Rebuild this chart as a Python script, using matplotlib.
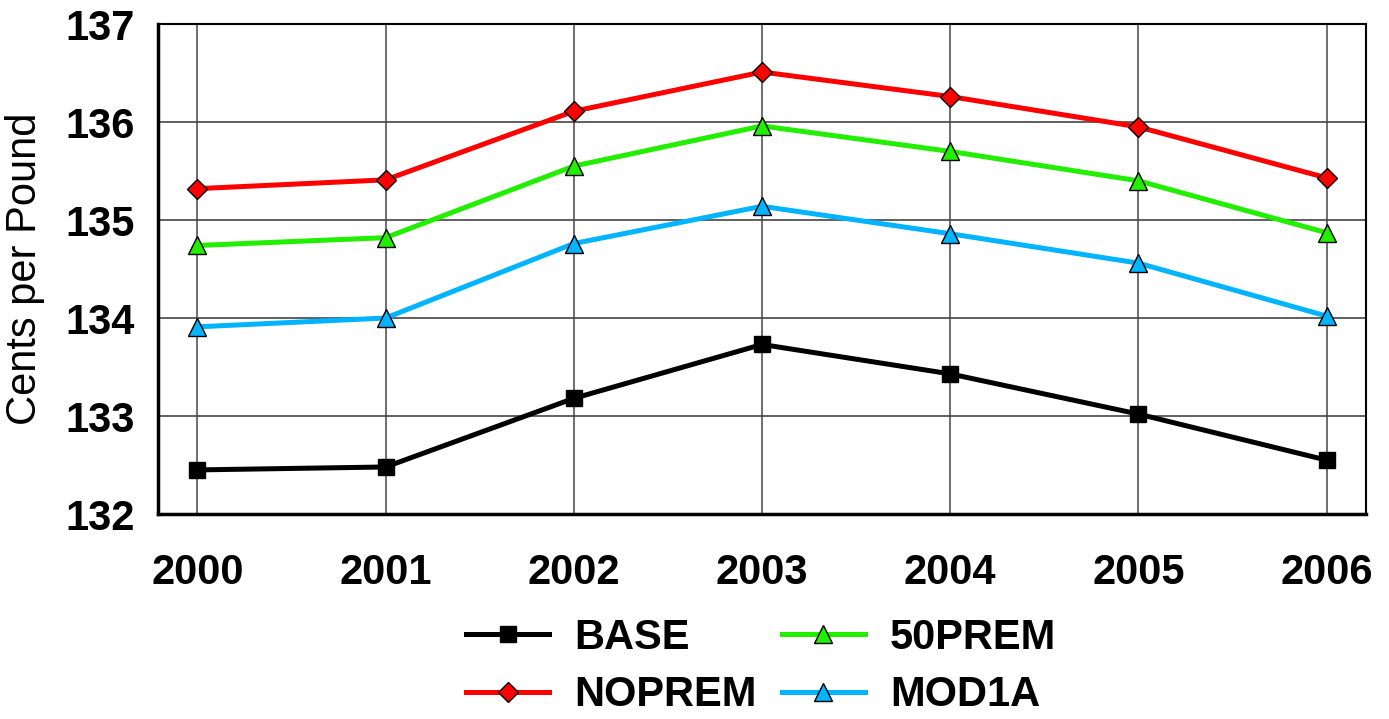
import matplotlib
matplotlib.use('Agg')
import matplotlib.pyplot as plt

years = ['2000', '2001', '2002', '2003', '2004', '2005', '2006']
base = [132.45, 132.48, 133.18, 133.73, 133.43, 133.02, 132.55]
noprem = [135.32, 135.41, 136.11, 136.51, 136.26, 135.95, 135.43]
prem50 = [134.74, 134.82, 135.55, 135.96, 135.70, 135.40, 134.87]
mod1a = [133.91, 134.00, 134.76, 135.14, 134.86, 134.56, 134.02]

plt.rcParams['font.family'] = ['Liberation Sans', 'DejaVu Sans']

fig = plt.figure(figsize=(13.89, 7.19), dpi=100)
ax = fig.add_axes([0.1137, 0.2851, 0.8698, 0.6815])

x = list(range(len(years)))
lw = 3.6
ax.plot(x, base, color='black', lw=lw, marker='s', ms=11, mfc='black', mec='black', label='BASE', zorder=5)
ax.plot(x, noprem, color='#ff0000', lw=lw, marker='D', ms=10, mfc='#ff0000', mec='black', mew=1, label='NOPREM', zorder=5)
ax.plot(x, prem50, color='#22ee00', lw=lw, marker='^', ms=13, mfc='#22ee00', mec='black', mew=1, label='50PREM', zorder=5)
ax.plot(x, mod1a, color='#00b4ff', lw=lw, marker='^', ms=13, mfc='#00b4ff', mec='black', mew=1, label='MOD1A', zorder=5)

ax.set_xlim(-0.21, 6.21)
ax.set_ylim(132, 137)
ax.set_yticks([132, 133, 134, 135, 136, 137])
ax.set_xticks(x)
ax.set_xticklabels(years)
ax.tick_params(axis='both', length=0, labelsize=30)
ax.tick_params(axis='x', pad=28)
ax.tick_params(axis='y', pad=17)
for lab in ax.get_xticklabels() + ax.get_yticklabels():
    lab.set_fontweight('bold')

ax.yaxis.grid(True, color='#444444', lw=1.2)
ax.xaxis.grid(True, color='#555555', lw=1.2)
ax.set_axisbelow(True)
for s in ax.spines.values():
    s.set_linewidth(1.5)
ax.spines['left'].set_linewidth(2.5)
ax.spines['bottom'].set_linewidth(2.5)

ax.set_ylabel('Cents per Pound', fontsize=30, labelpad=14)

handles, labels = ax.get_legend_handles_labels()
leg = fig.legend(handles, labels, ncol=2, loc='center', bbox_to_anchor=(0.548, 0.073),
                 frameon=False, prop={'size': 30, 'weight': 'bold'}, handlelength=2.0,
                 columnspacing=0.6, labelspacing=0.42, handletextpad=0.6, markerscale=1.0)

fig.savefig('out.png', dpi=100)
